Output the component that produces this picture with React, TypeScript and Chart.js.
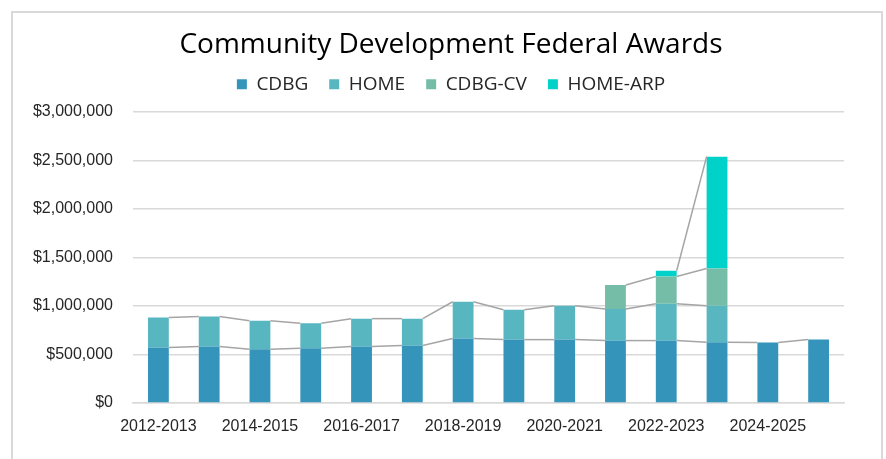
import React, { useEffect, useRef } from "react";
import { Chart, registerables } from "chart.js";

Chart.register(...registerables);

const categories = [
  "2012-2013", "2013-2014", "2014-2015", "2015-2016", "2016-2017", "2017-2018", "2018-2019",
  "2019-2020", "2020-2021", "2021-2022", "2022-2023", "2023-2024", "2024-2025", "2025-2026",
];
const cdbg = [571000, 582000, 554000, 564000, 582000, 592000, 664000, 653000, 653000, 643000, 643000, 626000, 623000, 653000];
const home = [311000, 308000, 294000, 257000, 287000, 277000, 379000, 307000, 349000, 325000, 380000, 376000, null, null];
const cdbgCv = [null, null, null, null, null, null, null, null, null, 247000, 280000, 383000, null, null];
const homeArp = [null, null, null, null, null, null, null, null, null, null, 59000, 1153000, null, null];
const yTicks = [0, 500000, 1000000, 1500000, 2000000, 2500000, 3000000];

const seriesLines = {
  id: "seriesLines",
  afterDatasetsDraw(chart: any) {
    const ctx = chart.ctx;
    ctx.save();
    ctx.strokeStyle = "#a5a5a5";
    ctx.lineWidth = 1.5;
    chart.data.datasets.forEach((ds: any, d: number) => {
      const meta = chart.getDatasetMeta(d);
      for (let i = 0; i < ds.data.length - 1; i++) {
        if (ds.data[i] == null || ds.data[i + 1] == null) continue;
        const a = meta.data[i] as any;
        const b = meta.data[i + 1] as any;
        ctx.beginPath();
        ctx.moveTo(a.x + a.width / 2, a.y);
        ctx.lineTo(b.x - b.width / 2, b.y);
        ctx.stroke();
      }
    });
    ctx.restore();
  },
};

const frame = {
  id: "frame",
  beforeDraw(chart: any) {
    const ctx = chart.ctx;
    ctx.save();
    ctx.fillStyle = "#ffffff";
    ctx.fillRect(0, 0, chart.width, chart.height);
    ctx.strokeStyle = "#d9d9d9";
    ctx.lineWidth = 2;
    ctx.strokeRect(12, 12, 870, 470);
    ctx.restore();
  },
};

export default function App() {
  const ref = useRef<HTMLCanvasElement>(null);
  useEffect(() => {
    const chart = new Chart(ref.current as HTMLCanvasElement, {
      type: "bar",
      data: {
        labels: categories,
        datasets: [
          { label: "CDBG", data: cdbg, backgroundColor: "#3494ba" },
          { label: "HOME", data: home, backgroundColor: "#58b6c0" },
          { label: "CDBG-CV", data: cdbgCv, backgroundColor: "#75bda7" },
          { label: "HOME-ARP", data: homeArp, backgroundColor: "#00d1c9" },
        ],
      },
      options: {
        responsive: false,
        animation: false,
        devicePixelRatio: 1,
        layout: { padding: { left: 16, right: 0, top: 0, bottom: 0 } },
        datasets: { bar: { barPercentage: 0.41, categoryPercentage: 1 } },
        plugins: {
          tooltip: { enabled: false },
          title: {
            display: true,
            text: "Community Development Federal Awards",
            color: "#000000",
            font: { family: "Open Sans", size: 28, weight: "normal", lineHeight: 0.6 },
            padding: { top: 37, bottom: 0 },
          },
          legend: {
            display: true,
            position: "top",
            labels: {
              boxWidth: 10,
              boxHeight: 10,
              padding: 21,
              color: "#262626",
              font: { family: "Open Sans", size: 19 },
            },
          },
          subtitle: {
            display: true,
            text: " ",
            weight: 0,
            font: { size: 8, lineHeight: 1 },
            padding: 0,
          } as any,
        },
        scales: {
          x: {
            stacked: true,
            grid: { display: false, drawTicks: false },
            border: { display: true, color: "#d9d9d9", width: 1.5 },
            ticks: {
              autoSkip: false,
              maxRotation: 0,
              padding: 14,
              color: "#262626",
              font: { family: "Liberation Sans", size: 16 },
              callback: (_v: any, i: number) => (i % 2 === 0 ? categories[i] : ""),
            },
            afterFit: (s: any) => { s.height = 56; },
          },
          y: {
            stacked: true,
            min: 0,
            max: 3000000,
            afterBuildTicks: (s: any) => { s.ticks = yTicks.map((v) => ({ value: v })); },
            grid: { color: "#d9d9d9", lineWidth: 1.5, drawTicks: false },
            border: { display: false },
            ticks: {
              padding: 20,
              color: "#262626",
              font: { family: "Liberation Sans", size: 16 },
              callback: (v: any) => "$" + Number(v).toLocaleString("en-US"),
            },
            afterFit: (s: any) => { s.width = 117; },
          },
          y2: {
            position: "right",
            display: true,
            grid: { display: false, drawTicks: false },
            border: { display: false },
            ticks: { display: false },
            afterFit: (s: any) => { s.width = 42; },
          },
        },
      },
      plugins: [frame, seriesLines],
    });
    return () => chart.destroy();
  }, []);
  return (
    <div style={{ position: "fixed", left: 0, top: 0, width: 886, height: 459 }}>
      <canvas ref={ref} width={886} height={459} style={{ width: 886, height: 459, display: "block" }} />
    </div>
  );
}
